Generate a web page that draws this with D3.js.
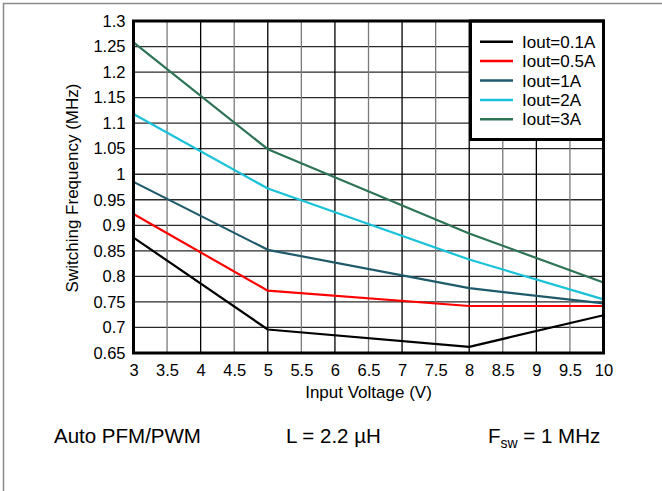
<!DOCTYPE html>
<html><head><meta charset="utf-8">
<script src="https://cdn.jsdelivr.net/npm/d3@7"></script>
<style>body{margin:0;background:#fff}svg{display:block;font-family:"Liberation Sans",Arial,sans-serif}</style>
</head><body><svg id="c" width="662" height="491"></svg>
<script>
const vin = [3, 5, 8, 10];
const seriesNames = ["Iout=0.1A", "Iout=0.5A", "Iout=1A", "Iout=2A", "Iout=3A"];
const seriesColors = ["#000000", "#ff0000", "#1f5a6b", "#19c2d8", "#2d7356"];
const f01 = [0.876, 0.696, 0.662, 0.724];
const f05 = [0.922, 0.772, 0.742, 0.742];
const f1  = [0.985, 0.852, 0.777, 0.747];
const f2  = [1.118, 0.972, 0.833, 0.755];
const f3  = [1.258, 1.049, 0.884, 0.788];
const seriesValues = [f01, f05, f1, f2, f3];
const xTicks = [3,3.5,4,4.5,5,5.5,6,6.5,7,7.5,8,8.5,9,9.5,10];
const yTicks = [0.65,0.7,0.75,0.8,0.85,0.9,0.95,1,1.05,1.1,1.15,1.2,1.25,1.3];

const svg = d3.select("#c");
const L = 133.5, R = 603.5, T = 21, B = 353;
const x = d3.scaleLinear().domain([3, 10]).range([L, R]);
const y = d3.scaleLinear().domain([0.65, 1.3]).range([B, T]);

// outer frame
svg.append("rect").attr("x", 3.5).attr("y", 3.5).attr("width", 700).attr("height", 600)
  .attr("fill", "none").attr("stroke", "#8a8a8a").attr("stroke-width", 1.5);

// grid
svg.append("g").selectAll("line").data(yTicks).join("line")
  .attr("x1", L).attr("x2", R).attr("y1", d => y(d)).attr("y2", d => y(d))
  .attr("stroke", "#2a2a2a").attr("stroke-width", 1.3);
svg.append("g").selectAll("line").data(xTicks).join("line")
  .attr("y1", T).attr("y2", B).attr("x1", d => x(d)).attr("x2", d => x(d))
  .attr("stroke", d => Number.isInteger(d) ? "#000" : "#7a7a7a").attr("stroke-width", 1.3);

// axes (labels only)
const xa = svg.append("g").attr("transform", `translate(0,${B})`)
  .call(d3.axisBottom(x).tickValues(xTicks).tickFormat(d3.format("")).tickSize(0).tickPadding(11));
const ya = svg.append("g").attr("transform", `translate(${L},0)`)
  .call(d3.axisLeft(y).tickValues(yTicks).tickFormat(d3.format("")).tickSize(0).tickPadding(8));
[xa, ya].forEach(a => { a.select(".domain").remove(); a.selectAll("text").attr("font-size", 16.5).attr("fill", "#000").attr("font-family", "Liberation Sans, Arial, sans-serif"); });

// lines
const line = d3.line().x((d, i) => x(vin[i])).y(d => y(d));
svg.append("g").selectAll("path").data(seriesValues).join("path")
  .attr("d", d => line(d)).attr("fill", "none")
  .attr("stroke", (d, i) => seriesColors[i]).attr("stroke-width", 2.2)
  .attr("stroke-linejoin", "round");

// legend
const lg = svg.append("g");
lg.append("rect").attr("x", 470.5).attr("y", T).attr("width", R - 470.5).attr("height", 118.5)
  .attr("fill", "#fff").attr("stroke", "#000").attr("stroke-width", 3);
seriesNames.forEach((n, i) => {
  const yy = 41.7 + i * 19.4;
  lg.append("line").attr("x1", 480).attr("x2", 513).attr("y1", yy).attr("y2", yy)
    .attr("stroke", seriesColors[i]).attr("stroke-width", 2.5);
  lg.append("text").attr("x", 522).attr("y", yy + 6).attr("font-size", 17).text(n);
});

// plot border
svg.append("rect").attr("x", L).attr("y", T).attr("width", R - L).attr("height", B - T)
  .attr("fill", "none").attr("stroke", "#000").attr("stroke-width", 3);

// axis titles
svg.append("text").attr("x", (L + R) / 2).attr("y", 398).attr("text-anchor", "middle")
  .attr("font-size", 17).text("Input Voltage (V)");
svg.append("text").attr("transform", `translate(78,188) rotate(-90)`).attr("text-anchor", "middle")
  .attr("font-size", 17).text("Switching Frequency (MHz)");

// annotations
svg.append("text").attr("x", 54).attr("y", 442.5).attr("font-size", 20.5).text("Auto PFM/PWM");
svg.append("text").attr("x", 286).attr("y", 442.5).attr("font-size", 20.5).text("L = 2.2 µH");
const ft = svg.append("text").attr("x", 488).attr("y", 442.5).attr("font-size", 20.5);
ft.append("tspan").text("F");
ft.append("tspan").attr("font-size", 14).attr("dy", 5).text("sw");
ft.append("tspan").attr("dy", -5).text(" = 1 MHz");
</script></body></html>
